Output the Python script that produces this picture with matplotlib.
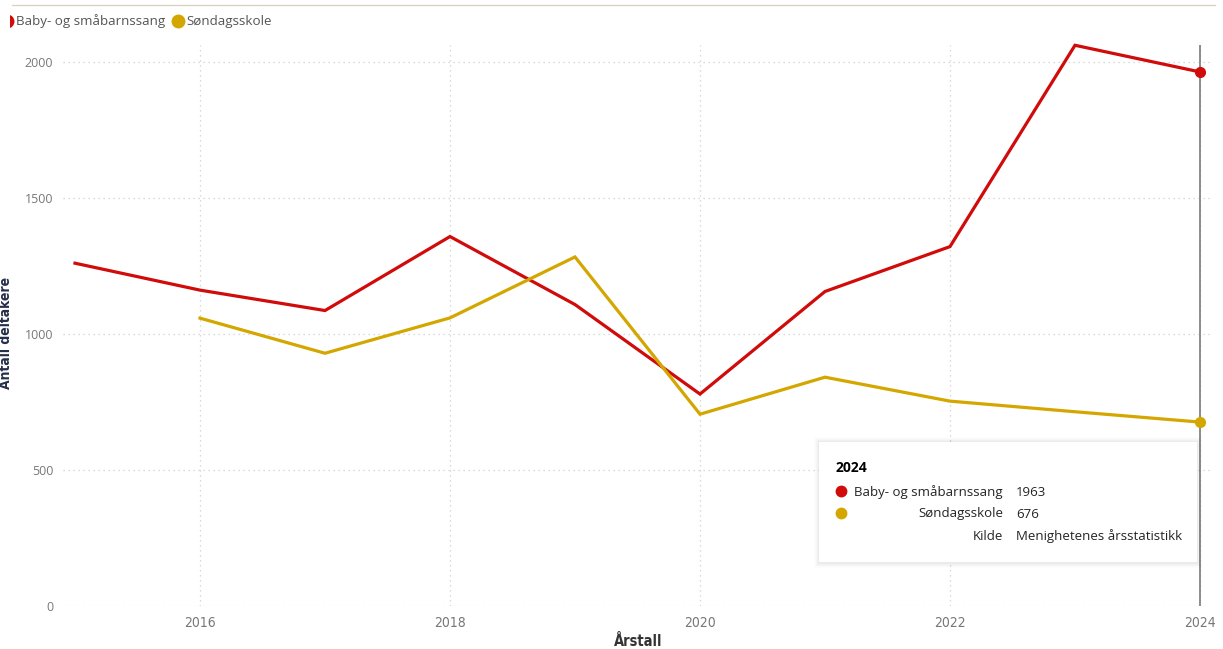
import matplotlib.pyplot as plt
from matplotlib.patches import Rectangle
from matplotlib.lines import Line2D

plt.rcParams['font.family'] = ['Open Sans', 'DejaVu Sans']

# data
years_baby = [2015, 2016, 2017, 2018, 2019, 2020, 2021, 2022, 2023, 2024]
baby = [1260, 1161, 1086, 1358, 1108, 779, 1156, 1321, 2061, 1963]
years_sondag = [2016, 2017, 2018, 2019, 2020, 2021, 2022, 2023, 2024]
sondag = [1058, 929, 1059, 1283, 705, 841, 753, 714, 676]
x_ticks = [2016, 2018, 2020, 2022, 2024]
y_ticks = [0, 500, 1000, 1500, 2000]

red = '#D10A0A'
gold = '#D4A600'
W, H = 1223, 649
narrow = dict(family=['DejaVu Sans'], stretch='condensed')

fig = plt.figure(figsize=(W / 100, H / 100), dpi=100)
ax = fig.add_axes([63 / W, 1 - 606 / H, (1210 - 63) / W, (606 - 45) / H])

ax.plot(years_baby, baby, color=red, lw=2.3, solid_joinstyle='miter', zorder=3, clip_on=False)
ax.plot(years_sondag, sondag, color=gold, lw=2.3, solid_joinstyle='miter', zorder=3, clip_on=False)

# hover line + markers at 2024
ax.axvline(2024, color='#7a7a7a', lw=1.2, zorder=2)
ax.plot([years_baby[-1]], [baby[-1]], 'o', color=red, ms=7, zorder=4)
ax.plot([years_sondag[-1]], [sondag[-1]], 'o', color=gold, ms=7, zorder=4)

ax.set_xlim(2014.904, 2024.08)
ax.set_ylim(0, 2062)
ax.set_xticks(x_ticks)
ax.set_yticks(y_ticks)
ax.grid(True, color='#cfcfcf', linestyle=(0, (1, 3)), lw=0.9)
ax.set_axisbelow(True)
for s in ax.spines.values():
    s.set_visible(False)
ax.tick_params(length=0, colors='#777777', labelsize=9)
for lbl in ax.get_xticklabels():
    lbl.set_fontproperties(dict(narrow, size=10))
ax.tick_params(axis='y', pad=7)
ax.tick_params(axis='x', pad=7)

fig.text(638 / W, 1 - 641 / H, 'Årstall', ha='center', va='center', fontsize=10.5,
         fontweight='bold', color='#333333', **narrow)
fig.text(6 / W, 1 - 333 / H, 'Antall deltakere', rotation=90, ha='center', va='center',
         fontsize=10, fontweight='bold', color='#252f4a', **narrow)

# top border line
fig.add_artist(Line2D([12 / W, 1215 / W], [1 - 5 / H, 1 - 5 / H], color='#d9d2c4', lw=1))

# legend
fig.add_artist(Line2D([7 / W], [1 - 21 / H], marker='o', color=red, ms=9, ls=''))
fig.add_artist(Rectangle((0, 1 - 30 / H), 10.5 / W, 20 / H, transform=fig.transFigure,
                         fc='white', ec='none', zorder=5))
fig.text(16 / W, 1 - 21 / H, 'Baby- og småbarnssang', ha='left', va='center', fontsize=9.6,
         color='#555555', zorder=6)
fig.add_artist(Line2D([178 / W], [1 - 21 / H], marker='o', color=gold, ms=9, ls=''))
fig.text(186 / W, 1 - 21 / H, 'Søndagsskole', ha='left', va='center', fontsize=9.6, color='#555555')

# tooltip
for k, a in enumerate([0.025, 0.02, 0.015, 0.01, 0.008]):
    fig.add_artist(Rectangle(((819 - 1 - k) / W, 1 - (562 + 2 + k) / H), (378 + 2 + 2 * k) / W,
                             (120 + 3 + 2 * k) / H, transform=fig.transFigure,
                             fc='black', ec='none', alpha=a, zorder=8))
fig.add_artist(Rectangle((819 / W, 1 - 562 / H), 378 / W, 120 / H, transform=fig.transFigure,
                         fc='white', ec='none', zorder=9))
fig.text(836 / W, 1 - 468 / H, '2024', ha='left', va='center', fontsize=10, fontweight='bold',
         color='black', zorder=10)
rows = [('Baby- og småbarnssang', str(baby[-1]), red),
        ('Søndagsskole', str(sondag[-1]), gold),
        ('Kilde', 'Menighetenes årsstatistikk', None)]
for i, (lab, val, c) in enumerate(rows):
    y = 1 - (492 + 22 * i) / H
    if c:
        fig.add_artist(Line2D([841 / W], [y + 1 / H], marker='o', color=c, ms=7.5, ls='', zorder=10))
    fig.text(1003 / W, y, lab, ha='right', va='center', fontsize=9.5, color='#252423', zorder=10)
    fig.text(1016 / W, y, val, ha='left', va='center', fontsize=9.5, color='#252423', zorder=10)

fig.savefig('out.png', dpi=100)
